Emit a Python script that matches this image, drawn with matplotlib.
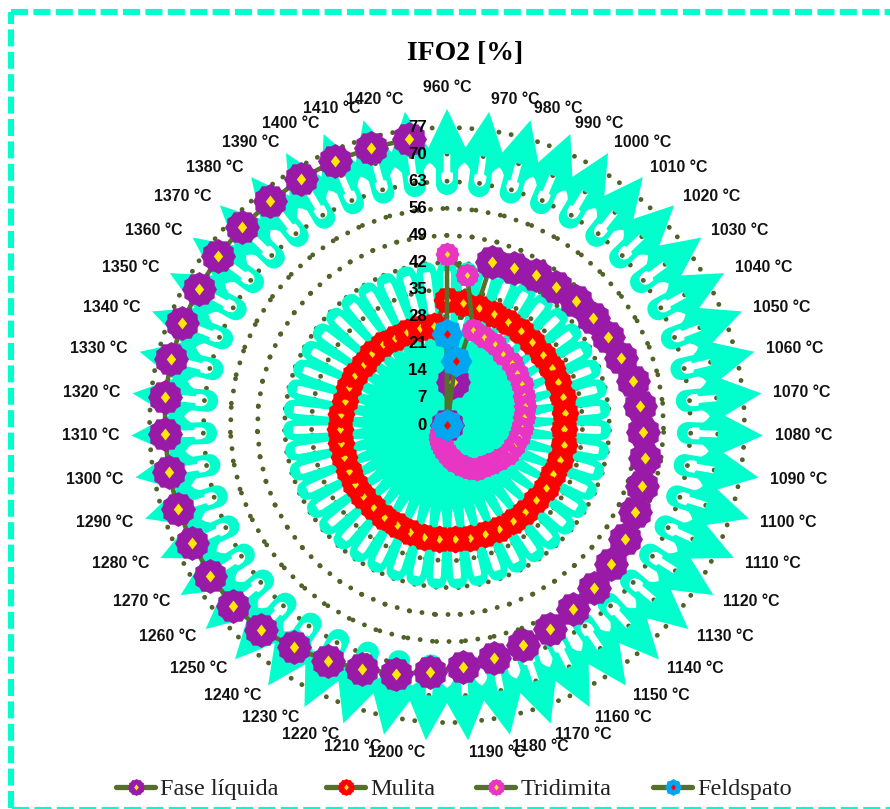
import numpy as np
import matplotlib
matplotlib.use("Agg")
import matplotlib.pyplot as plt
from matplotlib.lines import Line2D
from matplotlib.path import Path
from matplotlib.patches import PathPatch
from matplotlib.legend_handler import HandlerTuple

temperatures = list(range(960, 1430, 10))
radial_ticks = [0, 7, 14, 21, 28, 35, 42, 49, 56, 63, 70, 77]
fase_liquida = [0, 11.2, 43.7, 44.2, 44.9, 45.4, 46.2, 46.8, 47.5, 48.3, 49.3, 50.1,
                50.7, 51.9, 52.8, 53.6, 54.6, 55.5, 56.7, 57.6, 59.0, 60.1, 61.4, 62.7,
                64.0, 65.6, 66.7, 68.4, 69.7, 71.5, 72.4, 72.5, 72.5, 72.9, 72.9, 72.9,
                73.2, 73.3, 73.3, 73.2, 73.4, 73.7, 73.6, 74.0, 74.2, 74.2, 74.5]
mulita = [32.3, 31.8, 31.3, 31.2, 31.0, 30.9, 30.7, 30.7, 30.9, 30.7, 30.8, 30.6,
          30.3, 30.7, 30.5, 30.3, 30.2, 30.2, 30.2, 30.0, 30.0, 29.8, 29.8, 29.5,
          29.5, 29.5, 29.2, 28.9, 28.7, 28.5, 28.3, 28.2, 28.0, 27.9, 27.8, 27.7,
          27.5, 27.2, 27.0, 27.0, 26.7, 26.9, 26.7, 26.2, 26.2, 26.0, 25.8]
tridimita = [44.2, 39.1, 25.5, 24.8, 24.3, 23.5, 23.2, 22.6, 22.0, 21.2, 20.7, 20.0,
             19.4, 18.8, 18.1, 17.5, 16.3, 15.2, 14.3, 13.7, 12.5, 11.0, 9.6, 8.0,
             6.8, 5.8, 5.0, 4.0, 3.0, 2.0, 1.0, 0, 0, 0, 0, 0,
             0, 0, 0, 0, 0, 0, 0, 0, 0, 0, 0]
feldspato = [23.5, 16.7] + [0] * 45

W, H = 890, 809
CX, CY = 447, 425
PX = 298 / 77          # pixels per radial unit
HALF = 345
TEAL = "#00FFCC"
GREEN = "#55702B"
DOT = "#4F6228"
PT = 0.72              # points per pixel at 100 dpi

fig = plt.figure(figsize=(W / 100, H / 100), dpi=100, facecolor="white")
ax = fig.add_axes([(CX - HALF) / W, 1 - (CY + HALF) / H, 2 * HALF / W, 2 * HALF / H],
                  projection="polar")
ax.set_theta_zero_location("N")
ax.set_theta_direction(-1)
ax.set_ylim(0, HALF / PX)
ax.set_axis_off()

n = len(temperatures)
step = 2 * np.pi / n
thetas = np.arange(n) * step


def oriented(pts, positive):
    pts = np.asarray(pts)
    x, y = pts[:, 1] * np.sin(pts[:, 0]), pts[:, 1] * np.cos(pts[:, 0])
    area = np.sum(x * np.roll(y, -1) - np.roll(x, -1) * y)
    return pts if (area > 0) == positive else pts[::-1]


def local(th, u, r):
    """Tangential offset u and radius r, both in pixels, to (theta, value)."""
    r = np.asarray(r, float)
    return np.column_stack([th + np.asarray(u, float) / r, r / PX])


def compound(loops):
    verts, codes = [], []
    for loop in loops:
        verts += list(map(tuple, loop)) + [tuple(loop[0])]
        codes += [Path.MOVETO] + [Path.LINETO] * (len(loop) - 1) + [Path.CLOSEPOLY]
    return Path(verts, codes)


# dotted radar gridlines: the dash pattern restarts on every side
for v in radial_ticks[1:]:
    for k in range(n):
        ax.plot([thetas[k], thetas[(k + 1) % n]], [v, v], color=DOT, lw=3.5,
                linestyle=(0, (0.01, 2.55)), dash_capstyle="round", zorder=1)

# outer teal band: spikes outside, U shapes inside, slots on the spokes
arc = np.linspace(0, np.pi, 13)
outer = []
for th in thetas:
    outer.append((th, 316 / PX))
    outer.append((th + step / 2, 278 / PX))
inner = []
for th in thetas:
    inner.append((th - step / 2, 263 / PX))
    inner.append((th - step * 0.40, 260 / PX))
    u = np.r_[-11, -11 * np.cos(arc), 11]
    r = np.r_[256, 241 - 11 * np.sin(arc), 256]
    inner += list(map(tuple, local(th, u, r)))
    inner.append((th + step * 0.40, 260 / PX))
loops = [oriented(outer, True), oriented(inner, False)]
for th in thetas:
    u = np.r_[-6 * np.cos(arc), 6, 3.3, 3.3, -3.3, -3.3, -6]
    r = np.r_[247 - 6.5 * np.sin(arc), 252, 253, 271, 271, 253, 252]
    loops.append(oriented(local(th, u, r), False))
ax.add_patch(PathPatch(compound(loops), facecolor=TEAL, edgecolor="none", zorder=2))

# inner teal disc with scalloped edge and radial slits
scallop = []
for th in thetas:
    f = np.linspace(-0.5, 0.5, 11)[:-1]
    for fi in f:
        scallop.append((th + fi * step, (154 + 10 * np.sqrt(1 - (2 * fi) ** 2)) / PX))
loops = [oriented(scallop, True)]
for th in thetas:
    u = np.r_[0, 3.4, 4.0, 3.2, -3.2, -4.0, -3.4]
    r = np.r_[83, 106, 151, 154, 154, 151, 106]
    loops.append(oriented(local(th, u, r), False))
ax.add_patch(PathPatch(compound(loops), facecolor=TEAL, edgecolor="none", zorder=2))


def cog(teeth, depth):
    return Path.unit_regular_star(teeth, innerCircle=depth)


diamond = Path([(0, 1), (0.78, 0), (0, -1), (-0.78, 0), (0, 1)], closed=True)

series = [
    ("Fase líquida", fase_liquida, False, "#9A1AA8", "#FFE800", cog(12, 0.9), 35, 12),
    ("Mulita", mulita, True, "#FF0000", "#FFE800", cog(12, 0.9), 28, 9),
    ("Tridimita", tridimita, True, "#E835C4", "#FFE800", cog(12, 0.9), 24, 7),
    ("Feldspato", feldspato, True, "#00A6F0", "#FF0000", cog(8, 0.86), 32, 9),
]
legend_starts = [116, 326, 476, 653]
z = 10
for (name, vals, closed, col, ccol, shape, size, csize), start in zip(series, legend_starts):
    t = list(thetas) + ([thetas[0]] if closed else [])
    v = list(vals) + ([vals[0]] if closed else [])
    ax.plot(t, v, color=GREEN, lw=3.3, solid_capstyle="round", zorder=z)
    z += 1
    for th, val in zip(thetas, vals):
        ax.plot([th], [val], marker=shape, ms=size * PT, mfc=col, mec="none", ls="none", zorder=z)
        ax.plot([th], [val], marker=diamond, ms=csize * PT, mfc=ccol, mec="none", ls="none", zorder=z)
        z += 1
    handle = (Line2D([], [], color=GREEN, lw=3.8, solid_capstyle="round",
                     marker=shape, ms=17 * PT, mfc=col, mec="none"),
              Line2D([], [], ls="none", marker=diamond, ms=6 * PT, mfc=ccol, mec="none"))
    fig.legend([handle], [name], loc="center left",
               bbox_to_anchor=(start / W, 1 - 789 / H), frameon=False,
               handler_map={tuple: HandlerTuple(ndivide=1, pad=0)},
               prop={"family": "Liberation Serif", "size": 17.5},
               handlelength=1.62, handletextpad=0.2,
               borderpad=0, borderaxespad=0, labelcolor="#222222")

# radial tick labels
for v in radial_ticks:
    ax.annotate(str(v), xy=(0, v), xytext=(-20, 0), textcoords="offset pixels",
                ha="right", va="center", fontsize=12.2, fontweight="bold",
                family="Liberation Sans", color="black", zorder=z + 5)

# category labels
label_r = 328 / PX
for th, temp in zip(thetas, temperatures):
    if th == 0:
        ha, va, rr = "center", "center", 338 / PX
    elif th < np.pi:
        ha, va, rr = "left", "center", label_r
    else:
        ha, va, rr = "right", "center", label_r
    ax.text(th, rr, f"{temp} °C", ha=ha, va=va, fontsize=11.4, fontweight="bold",
            family="Liberation Sans", color="#111111", zorder=z + 6)

fig.text(465 / W, 1 - 53 / H, "IFO2 [%]", ha="center", va="center", fontsize=20,
         fontweight="bold", family="Liberation Serif", color="black")

# dashed frame: left, top and bottom edges (the right one is cut off)
for xs, ys, lw in [((11, 11), (808, 12), 4.4), ((11, 890), (12, 12), 4.4),
                   ((12, 890), (809, 809), 3.0)]:
    fig.add_artist(Line2D([x / W for x in xs], [1 - y / H for y in ys],
                          transform=fig.transFigure, color=TEAL, lw=lw,
                          linestyle=(0, (17 * 0.72 / lw, 5.4 * 0.72 / lw)),
                          dash_capstyle="butt", zorder=50))

fig.savefig("out.png", dpi=100)
